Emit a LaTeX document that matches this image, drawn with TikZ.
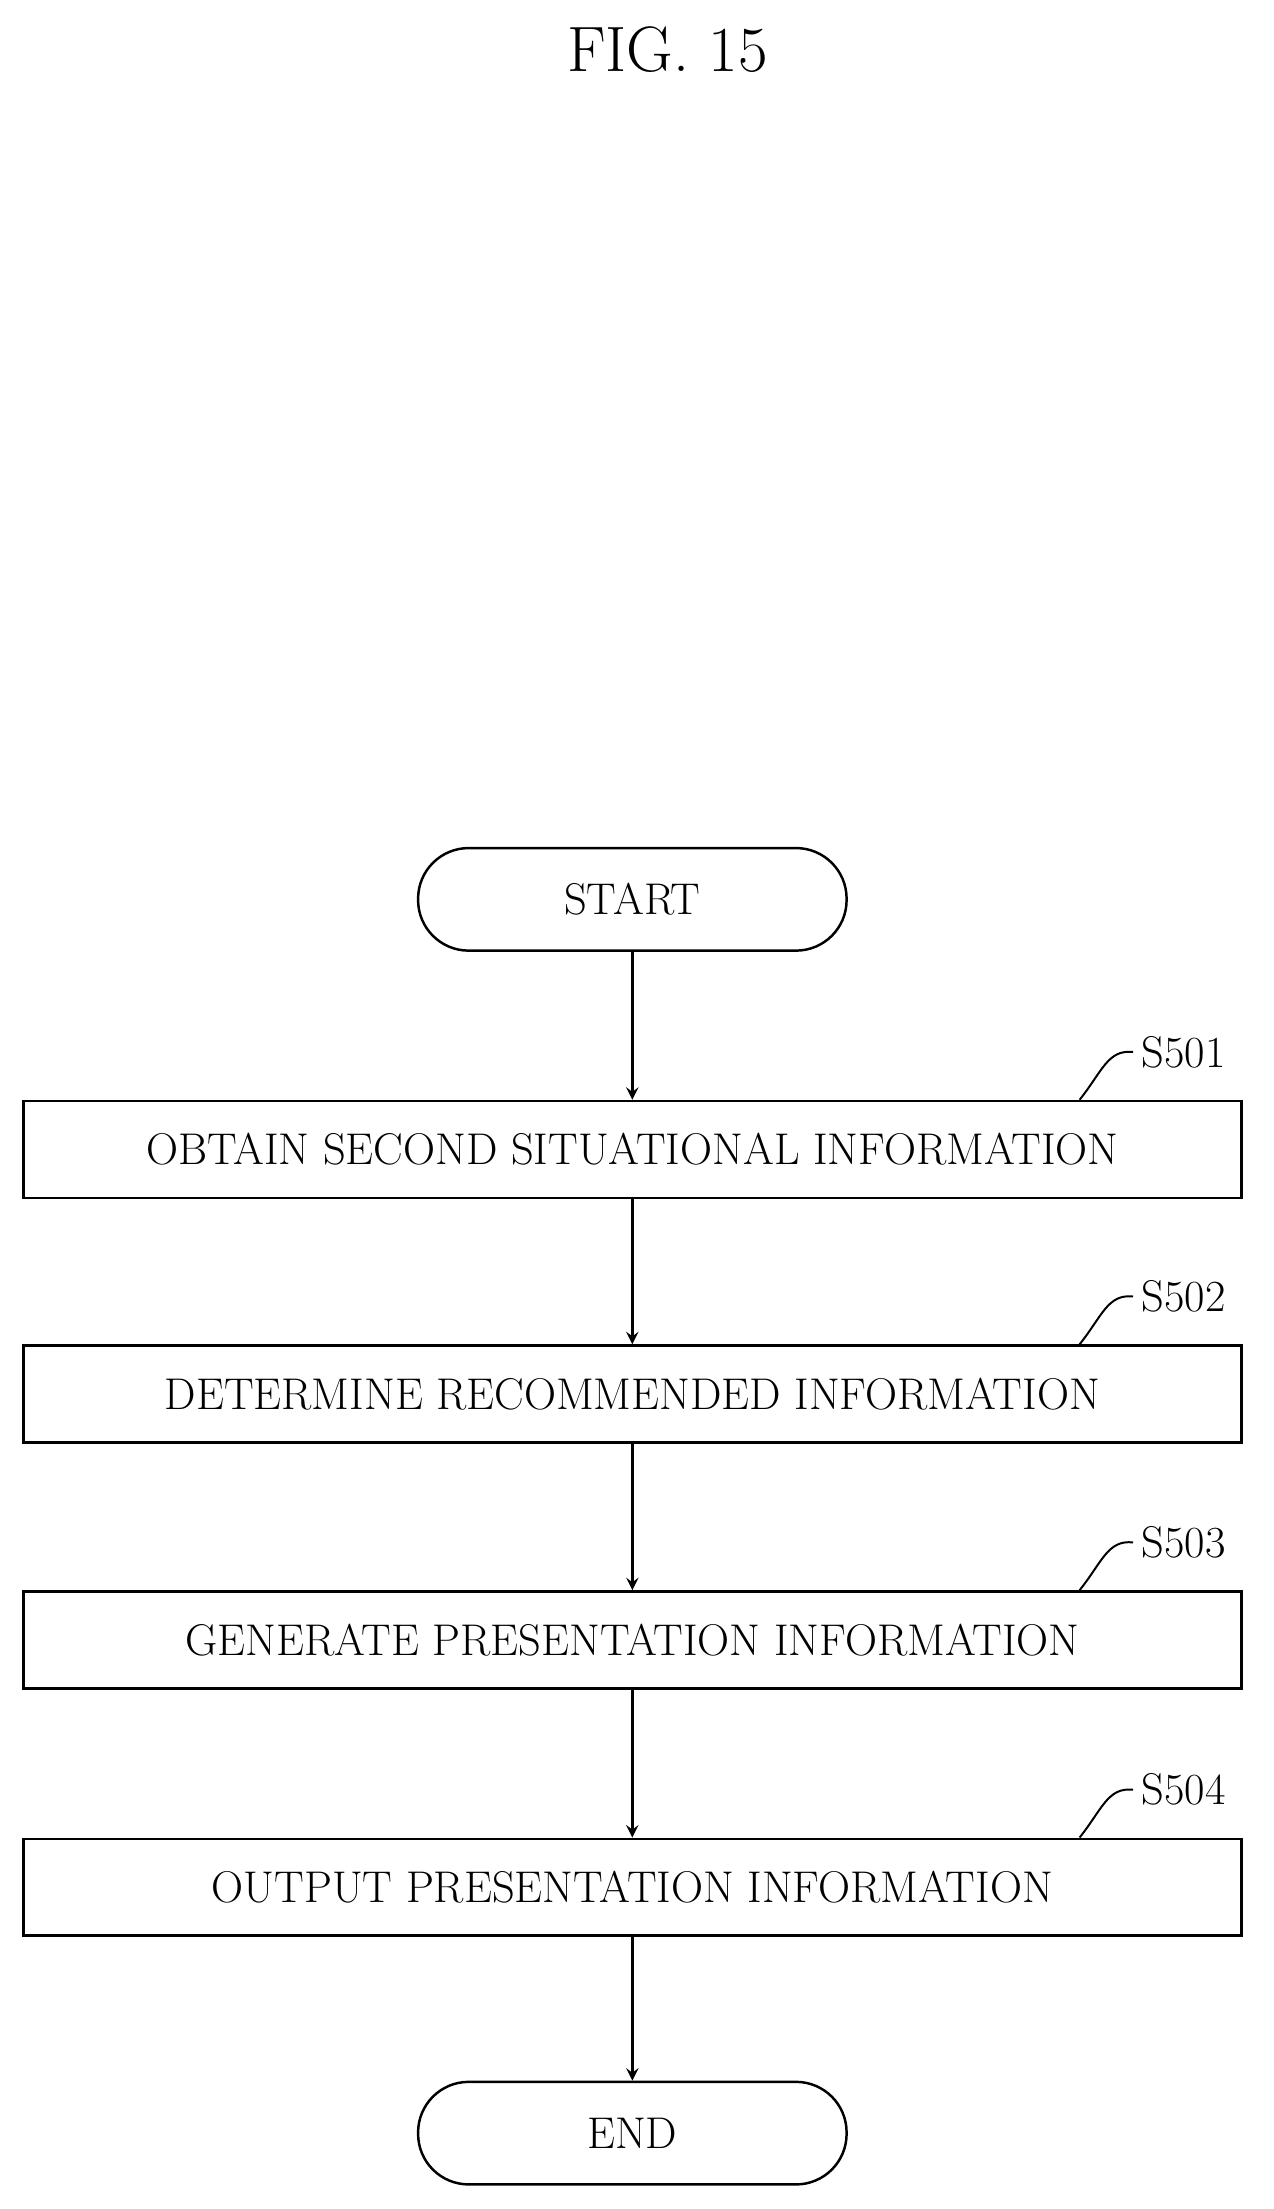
\documentclass[tikz,border=0pt]{standalone}
\usepackage{tikz}
\usetikzlibrary{arrows,shapes,positioning,calc}

\begin{document}
\begin{tikzpicture}[x=0.02cm,y=-0.02cm,
    procbox/.style={draw, line width=1pt, minimum width=17.34cm, minimum height=1.38cm, font=\fontsize{18}{20}\selectfont},
    term/.style={draw, line width=1pt, rounded corners=0.72cm, minimum width=6.1cm, minimum height=1.46cm, font=\fontsize{18}{20}\selectfont},
    flow/.style={->, >=stealth, line width=1.2pt},
    tag/.style={font=\fontsize{18}{20}\selectfont}]
    \useasboundingbox (0,0) rectangle (906,1572);
    % Title
    \node[font=\fontsize{26}{30}\selectfont] (title) at (475,35) {FIG. 15};

    % Boxes
    \node[term] (start) at (450,640) {START};
    \node[procbox] (s501) at (450,818) {OBTAIN SECOND SITUATIONAL INFORMATION};
    \node[procbox] (s502) at (450,992) {DETERMINE RECOMMENDED INFORMATION};
    \node[procbox] (s503) at (450,1167) {GENERATE PRESENTATION INFORMATION};
    \node[procbox] (s504) at (450,1343) {OUTPUT PRESENTATION INFORMATION};
    \node[term] (finish) at (450,1518) {END};

    % Arrows
    \draw[flow] (start) -- (s501);
    \draw[flow] (s501) -- (s502);
    \draw[flow] (s502) -- (s503);
    \draw[flow] (s503) -- (s504);
    \draw[flow] (s504) -- (finish);

    % Step labels
    \foreach \s/\n in {s501/S501, s502/S502, s503/S503, s504/S504} {
        \node[tag, anchor=west] (\s lbl) at ($(\s.north east)+(-78,-34)$) {\n};
        \draw[line width=0.8pt] ($(\s.north east)+(-116,0)$) .. controls ($(\s.north east)+(-100,-20)$) and ($(\s.north east)+(-96,-36)$) .. (\s lbl.west);
    }
\end{tikzpicture}
\end{document}
